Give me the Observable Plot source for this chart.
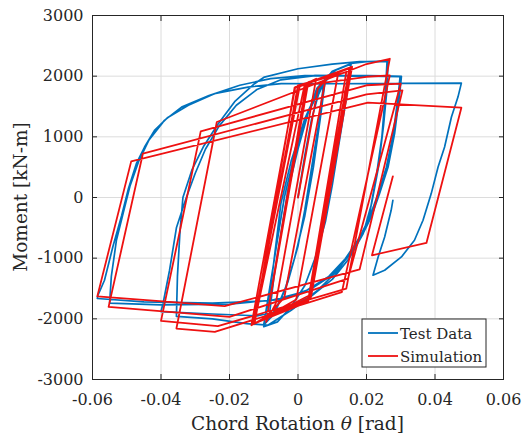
<!DOCTYPE html>
<html><head><meta charset="utf-8">
<script src="https://cdn.jsdelivr.net/npm/d3@7"></script>
<script src="https://cdn.jsdelivr.net/npm/@observablehq/plot@0.6"></script>
<style>
body{margin:0;background:#fff;}
#chart{width:525px;height:438px;}
</style></head><body><div id="chart"></div>
<script>
const xTicks = [-0.06,-0.04,-0.02,0,0.02,0.04,0.06];
const xTickLabels = ["-0.06","-0.04","-0.02","0","0.02","0.04","0.06"];
const yTicks = [-3000,-2000,-1000,0,1000,2000,3000];
const yTickLabels = ["-3000","-2000","-1000","0","1000","2000","3000"];
const seriesNames = ["Test Data","Simulation"];
const seriesColors = ["#0072BD","#EE1111"];
const xLabel = ["Chord Rotation ", "θ", " [rad]"];
const yLabel = "Moment [kN-m]";

// Test data (rotation [rad], moment [kN-m])
const testData = [
[0,0],[0.002,700],[0.004,1300],[0.006,1700],[0.0075,1880],
[0.006,1200],[0.004,500],[0.002,-200],[0.0,-800],[-0.003,-1400],[-0.006,-1800],[-0.0085,-2000],
[-0.007,-1300],[-0.005,-600],[-0.003,100],[0.0,800],[0.003,1400],[0.0055,1800],[0.008,1950],
[0.0065,1300],[0.0045,500],[0.002,-300],[-0.001,-1000],[-0.004,-1550],[-0.0075,-1950],[-0.010,-2100],
[-0.008,-1400],[-0.006,-700],[-0.004,0],[-0.001,700],[0.003,1400],[0.007,1850],[0.011,2100],[0.0155,2200],
[0.014,1600],[0.012,900],[0.010,200],[0.008,-400],[0.005,-1000],[0.002,-1450],[-0.002,-1800],[-0.006,-2050],[-0.010,-2130],
[-0.008,-1500],[-0.0065,-800],[-0.005,-100],[-0.002,600],[0.002,1300],[0.006,1800],[0.010,2080],[0.0155,2210],[0.020,2240],[0.026,2250],
[0.0255,1700],[0.0245,1000],[0.023,400],[0.0204,-430],[0.0156,-870],[0.0117,-1199],[0.0058,-1528],[-0.002,-1858],[-0.0088,-2105],[-0.015,-2080],[-0.025,-2000],[-0.0355,-1960],
[-0.0352,-1300],[-0.0345,-600],[-0.0336,0],[-0.031,450],[-0.0275,850],[-0.0235,1200],[-0.0185,1580],[-0.0127,1876],[-0.0098,1985],[0,2122],[0.010,2200],[0.018,2240],[0.0263,2240],
[0.026,1800],[0.025,1200],[0.0235,500],[0.0215,-100],[0.019,-600],[0.015,-1000],[0.010,-1350],[0.004,-1620],[-0.004,-1850],[-0.012,-1950],[-0.025,-1920],[-0.040,-1880],
[-0.0394,-1747],[-0.0375,-1199],[-0.0355,-500],[-0.0326,0],[-0.030,400],[-0.027,800],[-0.023,1180],[-0.018,1520],[-0.012,1780],[-0.005,1940],[0.005,2010],[0.015,2015],[0.025,2005],[0.0302,1996],
[0.0297,1711],[0.0282,1052],[0.0263,502],[0.0238,64],[0.0214,-321],[0.0185,-650],[0.0146,-980],[0.010,-1280],[0.004,-1500],[-0.005,-1680],[-0.020,-1760],[-0.040,-1770],[-0.055,-1740],
[-0.0545,-1300],[-0.053,-700],[-0.051,-250],[-0.049,200],[-0.0465,600],[-0.0435,950],[-0.039,1271],[-0.034,1490],[-0.026,1680],[-0.017,1850],[-0.008,1960],[0.002,2010],[0.015,2005],[0.025,1995],[0.0298,1990],
[0.0293,1700],[0.0278,1050],[0.0258,500],[0.0233,50],[0.0208,-340],[0.0178,-680],[0.0138,-1010],[0.009,-1300],[0.002,-1550],[-0.008,-1700],[-0.025,-1740],[-0.045,-1720],[-0.0586,-1665],
[-0.0584,-1611],[-0.0565,-1364],[-0.054,-800],[-0.0515,-300],[-0.0495,150],[-0.0472,558],[-0.0448,832],[-0.0419,1107],[-0.038,1320],[-0.032,1520],[-0.0244,1711],[-0.0146,1820],[-0.0049,1876],[0.01,1875],[0.03,1880],[0.0477,1886],
[0.0467,1655],[0.0448,1326],[0.0428,832],[0.0409,502],[0.0389,64],[0.0365,-375],[0.034,-705],[0.0302,-980],[0.0253,-1199],[0.0219,-1281],
[0.0234,-980],[0.0253,-650],[0.0272,-211],[0.0277,-46]
];

// Simulation (rotation [rad], moment [kN-m])
const simData = [
[0,0],[0.0058,1800],[0.0080,1930],
[-0.0040,-1650],[-0.0090,-1950],
[0.0024,1880],[0.0053,1958],
[-0.0065,-1750],[-0.0093,-2050],
[0.0030,1900],[0.0117,2040],
[-0.0005,-1680],[-0.0127,-2077],
[0.0000,1850],[0.0141,2067],
[0.0029,-1721],[-0.0127,-2077],
[-0.0010,1810],[0.0155,2150],
[0.0034,-1611],[-0.0136,-2105],
[-0.0008,1820],[0.0158,2155],
[0.0038,-1640],[-0.0131,-2090],
[0.0005,1830],[0.0150,2130],
[0.0031,-1690],[-0.0128,-2080],
[0.0019,1848],[0.0200,1990],[0.0268,2012],
[0.0128,-1560],[-0.0243,-2215],[-0.0355,-2160],
[-0.0237,1244],[0.0200,2200],[0.0268,2287],
[0.0141,-1501],[-0.0234,-2121],[-0.0400,-2034],
[-0.0284,1090],[0.0200,1850],[0.0300,1876],
[0.0146,-1336],[-0.0200,-1968],[-0.0553,-1803],
[-0.0453,722],[0.0200,1700],[0.0305,1766],
[0.0180,-1183],[-0.0214,-1792],[-0.0586,-1630],
[-0.0487,595],[0.0204,1563],[0.0477,1480],
[0.0375,-749],[0.0216,-952],[0.0277,349]
];

const test = testData.map(([x,y]) => ({x, y}));
const sim = simData.map(([x,y]) => ({x, y}));
const fmtX = d => xTickLabels[xTicks.indexOf(d)];
const fmtY = d => yTickLabels[yTicks.indexOf(d)];
const FONT = "'DejaVu Serif', serif";

const chart = Plot.plot({
  width: 525, height: 438,
  marginLeft: 92, marginRight: 22, marginTop: 15, marginBottom: 59,
  style: {fontFamily: FONT, fontSize: "16px", color: "#262626", background: "#fff"},
  x: {domain: [-0.06, 0.06], label: null},
  y: {domain: [-3000, 3000], label: null},
  marks: [
    Plot.gridX(xTicks, {stroke: "#dcdcdc", strokeOpacity: 1}),
    Plot.gridY(yTicks, {stroke: "#dcdcdc", strokeOpacity: 1}),
    Plot.line(test, {x: "x", y: "y", stroke: seriesColors[0], strokeWidth: 1.7, strokeLinejoin: "round"}),
    Plot.line(sim, {x: "x", y: "y", stroke: seriesColors[1], strokeWidth: 1.8, strokeLinejoin: "round"}),
    Plot.frame({stroke: "#262626"}),
    Plot.axisX(xTicks, {anchor: "bottom", tickSize: -5, tickPadding: 19, tickFormat: fmtX, fontSize: 16, label: null}),
    Plot.axisX(xTicks, {anchor: "top", tickSize: -5, tickFormat: () => "", label: null}),
    Plot.axisY(yTicks, {anchor: "left", tickSize: -5, tickPadding: 14, tickFormat: fmtY, fontSize: 16, label: null}),
    Plot.axisY(yTicks, {anchor: "right", tickSize: -5, tickFormat: () => "", label: null})
  ]
});
document.getElementById("chart").appendChild(chart);

const svg = d3.select(chart);
// axis labels
const xl = svg.append("text").attr("x", 297.5).attr("y", 430).attr("text-anchor", "middle")
  .attr("font-family", FONT).attr("font-size", 18.5).attr("fill", "#262626");
xl.append("tspan").text(xLabel[0]);
xl.append("tspan").attr("font-style", "italic").text(xLabel[1]);
xl.append("tspan").text(xLabel[2]);
svg.append("text").attr("transform", "translate(27,197) rotate(-90)").attr("text-anchor", "middle")
  .attr("font-family", FONT).attr("font-size", 18.5).attr("fill", "#262626").text(yLabel);

// legend
const lg = svg.append("g");
lg.append("rect").attr("x", 362).attr("y", 319).attr("width", 124).attr("height", 48)
  .attr("fill", "#fff").attr("stroke", "#262626").attr("stroke-width", 1);
seriesNames.forEach((name, i) => {
  const cy = 333 + i * 23;
  lg.append("line").attr("x1", 368).attr("x2", 398).attr("y1", cy).attr("y2", cy)
    .attr("stroke", seriesColors[i]).attr("stroke-width", 1.8);
  lg.append("text").attr("x", 400).attr("y", cy + 5.5).attr("text-anchor", "start")
    .attr("font-family", FONT).attr("font-size", 15).attr("fill", "#262626").text(name);
});
</script>
</body></html>
